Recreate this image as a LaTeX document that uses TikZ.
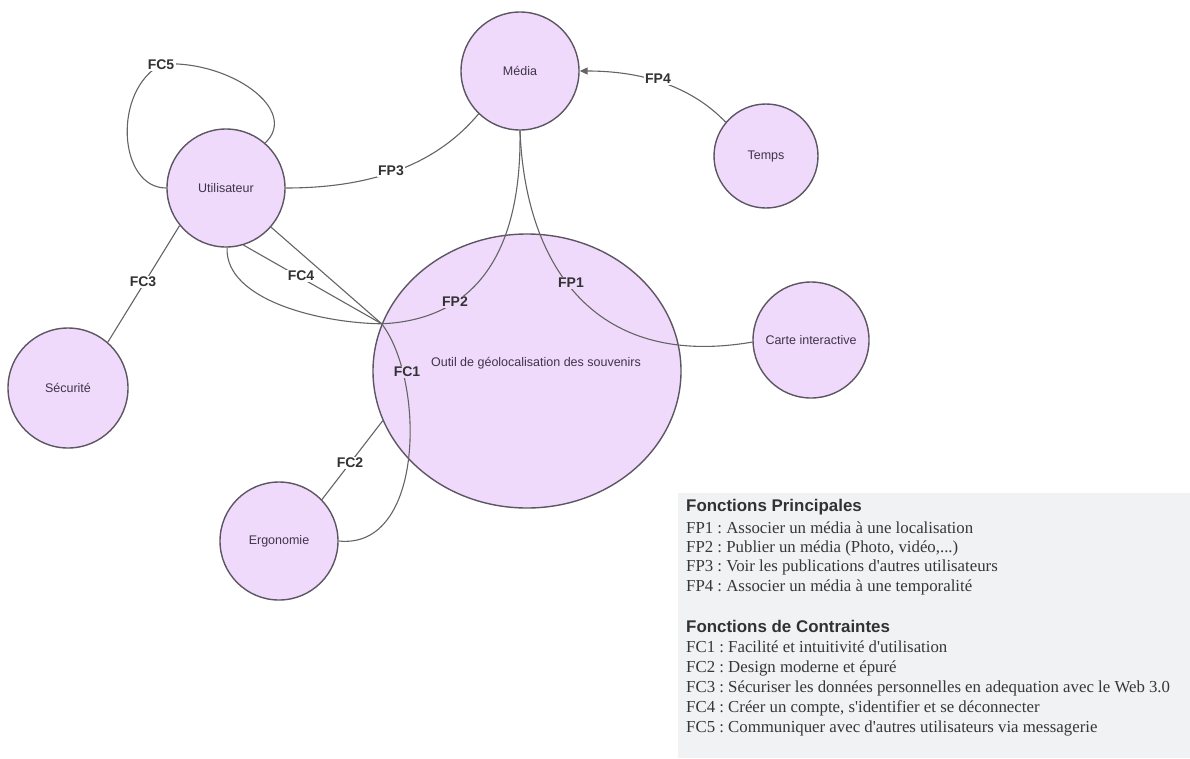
\documentclass[tikz,border=0pt]{standalone}
\usepackage{fontspec}
\setmainfont{Liberation Serif}
\setsansfont{Liberation Sans}
\usetikzlibrary{shapes.geometric,arrows.meta}
\definecolor{lav}{RGB}{240,218,252}
\definecolor{nodeborder}{RGB}{92,86,98}
\definecolor{edgecol}{RGB}{100,100,100}
\definecolor{nodetext}{RGB}{62,52,72}
\definecolor{labtext}{RGB}{50,50,50}
\definecolor{legfill}{RGB}{241,242,244}
\definecolor{legtext}{RGB}{55,55,55}
\frenchspacing
\begin{document}
\begin{tikzpicture}[x=1pt,y=-1pt,
  bubble/.style={circle,draw=nodeborder,line width=1.4pt,fill=lav,inner sep=0pt,
    font=\sffamily\fontsize{12.5}{14}\selectfont,text=nodetext},
  conn/.style={draw=edgecol,line width=1.1pt},
  elab/.style={font=\sffamily\bfseries\fontsize{14}{16}\selectfont,text=labtext,inner sep=1.5pt,fill=white},
  elabin/.style={elab,fill=lav},
  legtitle/.style={anchor=west,font=\sffamily\bfseries\fontsize{16.9}{19}\selectfont,text=labtext,inner sep=0pt},
  legline/.style={anchor=west,font=\frenchspacing\fontsize{16.8}{19}\selectfont,text=legtext,inner sep=0pt},
]
\useasboundingbox (0,0) rectangle (1190,758);
% legend box
\node[fill=legfill,minimum width=512pt,minimum height=265pt,anchor=north west,inner sep=0pt] (legend) at (678,493) {};
% nodes
\node[bubble,minimum size=118pt] (media) at (520,71) {Média};
\node[bubble,minimum size=104pt] (temps) at (766,156) {Temps};
\node[bubble,minimum size=118pt] (util) at (226,188) {Utilisateur};
\node[bubble,minimum size=120pt] (secu) at (68,388) {Sécurité};
\node[bubble,minimum size=118pt] (ergo) at (279,541) {Ergonomie};
\node[bubble,minimum size=116pt] (carte) at (811,340) {Carte interactive};
\node[ellipse,draw=nodeborder,line width=1.4pt,fill=lav,inner sep=0pt,minimum width=308pt,minimum height=274pt] (outil) at (527,371) {};
\node[font=\sffamily\fontsize{12.5}{14}\selectfont,text=nodetext,inner sep=0pt] (outiltxt) at (536,363) {Outil de géolocalisation des souvenirs};
\coordinate (conv) at (outil.162);
\coordinate (fc5pt) at (162,64);
% connectors
\draw[conn] (util.0) .. controls (380,188) and (440,160) .. (media.226);
\draw[conn,-{Triangle[length=8pt,width=7pt]}] (temps.140) .. controls (690,85) and (640,71) .. (media.0);
\draw[conn] (media.270) .. controls (525,260) and (590,370) .. (carte.182);
\draw[conn] (util.271) .. controls (225,300) and (320,323) .. (conv) .. controls (470,320) and (522,260) .. (media.270);
\draw[conn] (util.287) -- (conv);
\draw[conn] (util.319) -- (conv) .. controls (425,380) and (425,550) .. (ergo.0);
\draw[conn] (outil.199) -- (ergo.44);
\draw[conn] (util.219) -- (secu.49);
\draw[conn] (util.180) .. controls (118,188) and (112,90) .. (fc5pt) .. controls (230,60) and (300,110) .. (util.49);
% connector labels
\node[elab] (lfc5) at (161,65) {FC5};
\node[elab] (lfp3) at (391,171) {FP3};
\node[elab] (lfp4) at (658,79) {FP4};
\node[elab] (lfc3) at (143,282) {FC3};
\node[elab] (lfc4) at (301,276) {FC4};
\node[elabin] (lfp2) at (455,302) {FP2};
\node[elabin] (lfp1) at (571,283) {FP1};
\node[elabin] (lfc1) at (407,372) {FC1};
\node[elab] (lfc2) at (350,463) {FC2};
% legend text
\node[legtitle] (t1) at (686,507) {Fonctions Principales};
\node[legline] (fp1) at (686,528) {FP1 : Associer un média à une localisation};
\node[legline] (fp2) at (686,548) {FP2 : Publier un média (Photo, vidéo,...)};
\node[legline] (fp3) at (686,567) {FP3 : Voir les publications d\textquotesingle autres utilisateurs};
\node[legline] (fp4) at (686,587) {FP4 : Associer un média à une temporalité};
\node[legtitle] (t2) at (686,626) {Fonctions de Contraintes};
\node[legline] (fc1) at (686,647) {FC1 : Facilité et intuitivité d\textquotesingle utilisation};
\node[legline] (fc2) at (686,668) {FC2 : Design moderne et épuré};
\node[legline] (fc3) at (686,688) {FC3 : Sécuriser les données personnelles en adequation avec le Web 3.0};
\node[legline] (fc4) at (686,708) {FC4 : Créer un compte, s\textquotesingle identifier et se déconnecter};
\node[legline] (fc5) at (686,728) {FC5 : Communiquer avec d\textquotesingle autres utilisateurs via messagerie};
\end{tikzpicture}
\end{document}
